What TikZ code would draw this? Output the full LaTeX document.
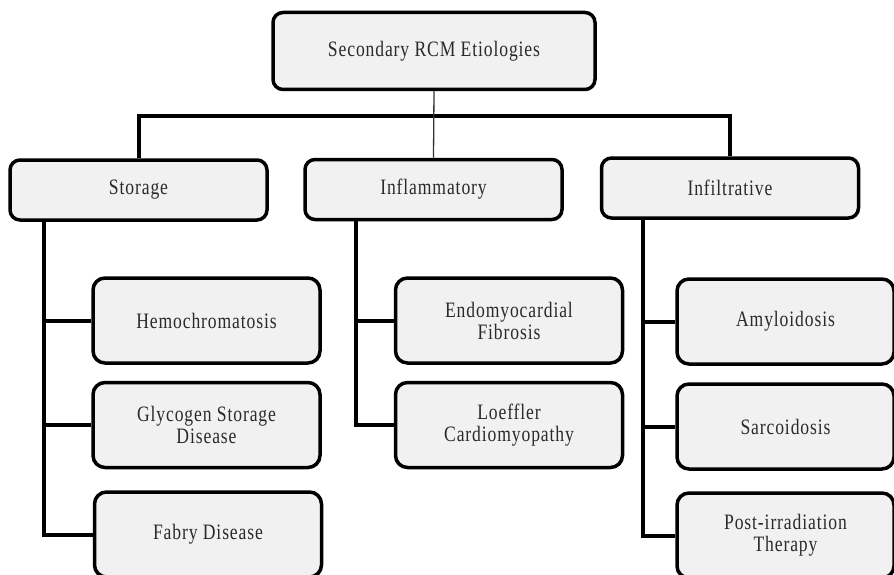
\documentclass[tikz,border=0pt]{standalone}
\usepackage{fontspec}
\setmainfont{Liberation Serif}
\newfontfamily\boxfont[FakeStretch=0.8, LetterSpace=4]{Liberation Serif}
\usepackage{tikz}
\usetikzlibrary{positioning, calc}
\definecolor{BoxGray}{HTML}{F1F1F1}
\definecolor{TextGray}{HTML}{2A2A2A}
\tikzset{
    rootbox/.style={rectangle, rounded corners=10pt, draw=black, fill=BoxGray, line width=3.5pt,
        minimum width=322pt, minimum height=77pt, text=TextGray, font=\boxfont\fontsize{22}{22}\selectfont},
    groupbox/.style={rectangle, rounded corners=10pt, draw=black, fill=BoxGray, line width=3.5pt,
        minimum width=257pt, minimum height=60pt, text=TextGray, font=\boxfont\fontsize{22}{22}\selectfont},
    itembox/.style={rectangle, rounded corners=12pt, draw=black, fill=BoxGray, line width=3.5pt,
        minimum width=227pt, minimum height=85pt, align=center, text=TextGray,
        font=\boxfont\fontsize{22}{22}\selectfont},
    busline/.style={line width=4pt, black},
    thinline/.style={line width=1.3pt, black!80},
}

\begin{document}
\begin{tikzpicture}[x=1pt, y=-1pt]
    \useasboundingbox (0,0) rectangle (894,575);
    % top and category boxes
    \node[rootbox] (root) at (434,51) {Secondary RCM Etiologies};
    \node[groupbox] (storage) at (138.5,190) {Storage};
    \node[groupbox] (inflam) at (433.5,189.5) {Inflammatory};
    \node[groupbox] (infil) at (730,188) {Infiltrative};
    % disease boxes
    \node[itembox] (hemo) at (206.5,320.5) {Hemochromatosis};
    \node[itembox] (glyco) at (206.5,425) {Glycogen Storage\\Disease};
    \node[itembox] (fabry) at (208,534.5) {Fabry Disease};
    \node[itembox] (endo) at (509,320.5) {Endomyocardial\\Fibrosis};
    \node[itembox] (loef) at (509,425) {Loeffler\\Cardiomyopathy};
    \node[itembox, minimum width=217pt] (amy) at (785.5,321.5) {Amyloidosis};
    \node[itembox, minimum width=217pt] (sarc) at (785.5,426.5) {Sarcoidosis};
    \node[itembox, minimum width=217pt] (post) at (785.5,535.5) {Post-irradiation\\Therapy};
    % connectors
    \coordinate (bus) at (434,116);
    \draw[busline] (storage.north) |- (bus) -| (infil.north);
    \draw[thinline] (root.south) -- (inflam.north);
    \coordinate (stx) at (44,0);
    \coordinate (inx) at (356,0);
    \coordinate (ifx) at (643,0);
    \draw[busline] (stx |- storage.south) |- (fabry.west);
    \draw[busline] (stx |- hemo.west) -- (hemo.west);
    \draw[busline] (stx |- glyco.west) -- (glyco.west);
    \draw[busline] (inx |- inflam.south) |- (loef.west);
    \draw[busline] (inx |- endo.west) -- (endo.west);
    \draw[busline] (ifx |- infil.south) |- (post.west);
    \draw[busline] (ifx |- amy.west) -- (amy.west);
    \draw[busline] (ifx |- sarc.west) -- (sarc.west);
\end{tikzpicture}
\end{document}
